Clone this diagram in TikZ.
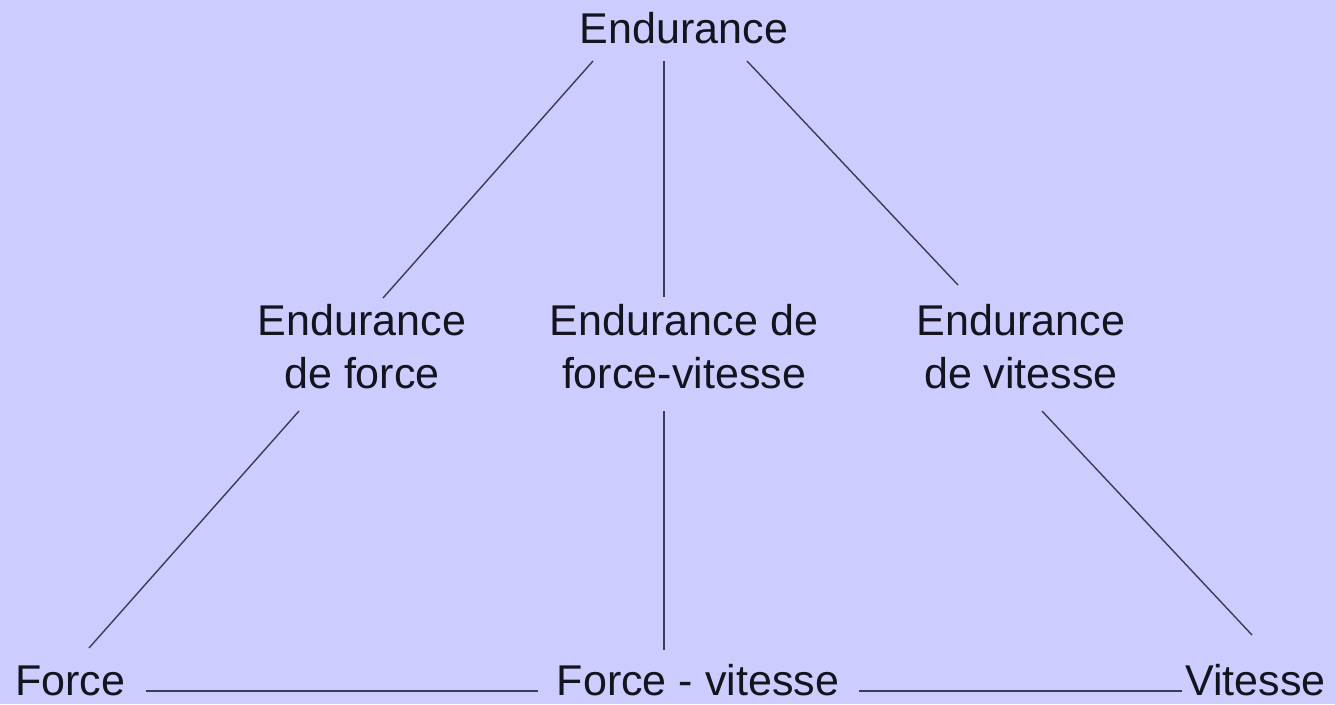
\documentclass[tikz,border=0pt]{standalone}
\usepackage{fontspec}
\setmainfont{Liberation Sans}
\usetikzlibrary{positioning}
\definecolor{lavande}{RGB}{204,204,255}
\definecolor{trait}{RGB}{60,60,85}
\definecolor{texte}{RGB}{20,20,30}

\begin{document}
\begin{tikzpicture}[
    x=0.02cm, y=-0.02cm,    % one unit = one pixel of the sketch
    quality/.style={font=\fontsize{24.5}{30}\selectfont, text=texte, inner sep=0pt, align=center},
    link/.style={draw=trait, line width=0.8pt}]
    % Background
    \fill[lavande] (0,0) rectangle (1335,704);
    \useasboundingbox (0,0) rectangle (1335,704);

    % Nodes
    \node[quality, anchor=base] (endu) at (684,43) {Endurance};
    \node[quality, anchor=north] (eforce) at (362,304) {Endurance\\de force};
    \node[quality, anchor=north] (efv) at (684,304) {Endurance de\\force-vitesse};
    \node[quality, anchor=north] (evit) at (1021,304) {Endurance\\de vitesse};
    \node[quality, anchor=base west] (force) at (15,695) {Force};
    \node[quality, anchor=base] (fv) at (698,695) {Force - vitesse};
    \node[quality, anchor=base west] (vit) at (1185,695) {Vitesse};

    % Links from the top
    \draw[link] ([shift={(-91,18)}]endu.base) -- ([shift={(21,-6)}]eforce.north);
    \draw[link] ([shift={(-20,18)}]endu.base) -- ([shift={(-20,-7)}]efv.north);
    \draw[link] ([shift={(63,18)}]endu.base) -- ([shift={(-63,-19)}]evit.north);

    % Links to the bottom
    \draw[link] ([shift={(-63,22)}]eforce.south) -- ([shift={(74,-47)}]force.base west);
    \draw[link] ([shift={(-20,22)}]efv.south) -- ([shift={(-34,-45)}]fv.base);
    \draw[link] ([shift={(21,22)}]evit.south) -- ([shift={(67,-60)}]vit.base west);

    % Bottom line
    \draw[link] ([shift={(20,-4)}]force.base east) -- ([shift={(-19,-4)}]fv.base west);
    \draw[link] ([shift={(20,-4)}]fv.base east) -- ([shift={(-3,-4)}]vit.base west);
\end{tikzpicture}
\end{document}
